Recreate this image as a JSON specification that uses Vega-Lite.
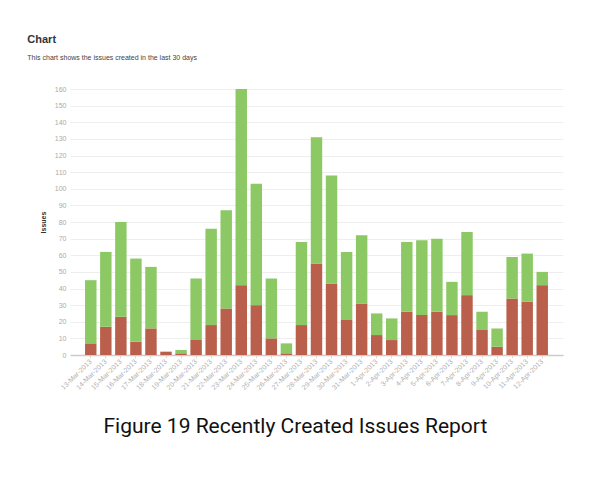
{
  "$schema": "https://vega.github.io/schema/vega-lite/v6.json",
  "width": 493,
  "height": 266,
  "padding": {"left": 27, "top": 34, "right": 5, "bottom": 5},
  "background": "white",
  "title": {
    "text": "Chart",
    "subtitle": "This chart shows the issues created in the last 30 days",
    "anchor": "start",
    "frame": "bounds",
    "dx": -12,
    "font": "Liberation Sans",
    "fontSize": 11,
    "fontWeight": "bold",
    "color": "#333333",
    "subtitleFont": "Liberation Sans",
    "subtitleFontSize": 7,
    "subtitleColor": "#444444",
    "subtitlePadding": 9,
    "offset": 24
  },
  "data": {
    "values": [
      {"date": "13-Mar-2013", "status": "Unresolved", "count": 7},
      {"date": "13-Mar-2013", "status": "Resolved", "count": 38},
      {"date": "14-Mar-2013", "status": "Unresolved", "count": 17},
      {"date": "14-Mar-2013", "status": "Resolved", "count": 45},
      {"date": "15-Mar-2013", "status": "Unresolved", "count": 23},
      {"date": "15-Mar-2013", "status": "Resolved", "count": 57},
      {"date": "16-Mar-2013", "status": "Unresolved", "count": 8},
      {"date": "16-Mar-2013", "status": "Resolved", "count": 50},
      {"date": "17-Mar-2013", "status": "Unresolved", "count": 16},
      {"date": "17-Mar-2013", "status": "Resolved", "count": 37},
      {"date": "18-Mar-2013", "status": "Unresolved", "count": 2},
      {"date": "18-Mar-2013", "status": "Resolved", "count": 0},
      {"date": "19-Mar-2013", "status": "Unresolved", "count": 1},
      {"date": "19-Mar-2013", "status": "Resolved", "count": 2},
      {"date": "20-Mar-2013", "status": "Unresolved", "count": 9},
      {"date": "20-Mar-2013", "status": "Resolved", "count": 37},
      {"date": "21-Mar-2013", "status": "Unresolved", "count": 18},
      {"date": "21-Mar-2013", "status": "Resolved", "count": 58},
      {"date": "22-Mar-2013", "status": "Unresolved", "count": 28},
      {"date": "22-Mar-2013", "status": "Resolved", "count": 59},
      {"date": "23-Mar-2013", "status": "Unresolved", "count": 42},
      {"date": "23-Mar-2013", "status": "Resolved", "count": 118},
      {"date": "24-Mar-2013", "status": "Unresolved", "count": 30},
      {"date": "24-Mar-2013", "status": "Resolved", "count": 73},
      {"date": "25-Mar-2013", "status": "Unresolved", "count": 10},
      {"date": "25-Mar-2013", "status": "Resolved", "count": 36},
      {"date": "26-Mar-2013", "status": "Unresolved", "count": 1},
      {"date": "26-Mar-2013", "status": "Resolved", "count": 6},
      {"date": "27-Mar-2013", "status": "Unresolved", "count": 18},
      {"date": "27-Mar-2013", "status": "Resolved", "count": 50},
      {"date": "28-Mar-2013", "status": "Unresolved", "count": 55},
      {"date": "28-Mar-2013", "status": "Resolved", "count": 76},
      {"date": "29-Mar-2013", "status": "Unresolved", "count": 43},
      {"date": "29-Mar-2013", "status": "Resolved", "count": 65},
      {"date": "30-Mar-2013", "status": "Unresolved", "count": 21},
      {"date": "30-Mar-2013", "status": "Resolved", "count": 41},
      {"date": "31-Mar-2013", "status": "Unresolved", "count": 31},
      {"date": "31-Mar-2013", "status": "Resolved", "count": 41},
      {"date": "1-Apr-2013", "status": "Unresolved", "count": 12},
      {"date": "1-Apr-2013", "status": "Resolved", "count": 13},
      {"date": "2-Apr-2013", "status": "Unresolved", "count": 9},
      {"date": "2-Apr-2013", "status": "Resolved", "count": 13},
      {"date": "3-Apr-2013", "status": "Unresolved", "count": 26},
      {"date": "3-Apr-2013", "status": "Resolved", "count": 42},
      {"date": "4-Apr-2013", "status": "Unresolved", "count": 24},
      {"date": "4-Apr-2013", "status": "Resolved", "count": 45},
      {"date": "5-Apr-2013", "status": "Unresolved", "count": 26},
      {"date": "5-Apr-2013", "status": "Resolved", "count": 44},
      {"date": "6-Apr-2013", "status": "Unresolved", "count": 24},
      {"date": "6-Apr-2013", "status": "Resolved", "count": 20},
      {"date": "7-Apr-2013", "status": "Unresolved", "count": 36},
      {"date": "7-Apr-2013", "status": "Resolved", "count": 38},
      {"date": "8-Apr-2013", "status": "Unresolved", "count": 15},
      {"date": "8-Apr-2013", "status": "Resolved", "count": 11},
      {"date": "9-Apr-2013", "status": "Unresolved", "count": 5},
      {"date": "9-Apr-2013", "status": "Resolved", "count": 11},
      {"date": "10-Apr-2013", "status": "Unresolved", "count": 34},
      {"date": "10-Apr-2013", "status": "Resolved", "count": 25},
      {"date": "11-Apr-2013", "status": "Unresolved", "count": 32},
      {"date": "11-Apr-2013", "status": "Resolved", "count": 29},
      {"date": "12-Apr-2013", "status": "Unresolved", "count": 42},
      {"date": "12-Apr-2013", "status": "Resolved", "count": 8}
    ]
  },
  "mark": {"type": "bar"},
  "encoding": {
    "x": {
      "field": "date",
      "type": "nominal",
      "sort": null,
      "scale": {"paddingInner": 0.24, "paddingOuter": 1.6},
      "axis": {
        "labelAngle": -45,
        "labelAlign": "right",
        "labelBaseline": "middle",
        "labelFontSize": 7,
        "labelColor": "#b0b0b0",
        "labelPadding": 2,
        "domainColor": "#cccccc",
        "domainWidth": 1.5,
        "tickColor": "#dddddd",
        "tickSize": 3,
        "title": "Figure 19 Recently Created Issues Report",
        "titleFont": "Roboto",
        "titleFontSize": 21,
        "titleFontWeight": "normal",
        "titleColor": "#111111",
        "titleAlign": "left",
        "titleAnchor": "start",
        "titleX": 33,
        "titleY": 77,
        "titleBaseline": "alphabetic"
      }
    },
    "y": {
      "field": "count",
      "type": "quantitative",
      "stack": "zero",
      "scale": {"domain": [0, 160]},
      "axis": {
        "values": [0, 10, 20, 30, 40, 50, 60, 70, 80, 90, 100, 110, 120, 130, 140, 150, 160],
        "title": "Issues",
        "titleFont": "Liberation Sans",
        "titleFontSize": 7,
        "titleFontWeight": "bold",
        "titleColor": "#333333",
        "titlePadding": 8,
        "labelFontSize": 7,
        "labelColor": "#aaaaaa",
        "labelPadding": 4,
        "ticks": false,
        "domain": false,
        "gridColor": "#eeeeee"
      }
    },
    "color": {
      "field": "status",
      "type": "nominal",
      "scale": {"domain": ["Unresolved", "Resolved"], "range": ["#b95f4b", "#8cc864"]},
      "legend": null
    },
    "order": {"field": "status", "sort": "descending"}
  },
  "config": {"view": {"stroke": null}}
}
